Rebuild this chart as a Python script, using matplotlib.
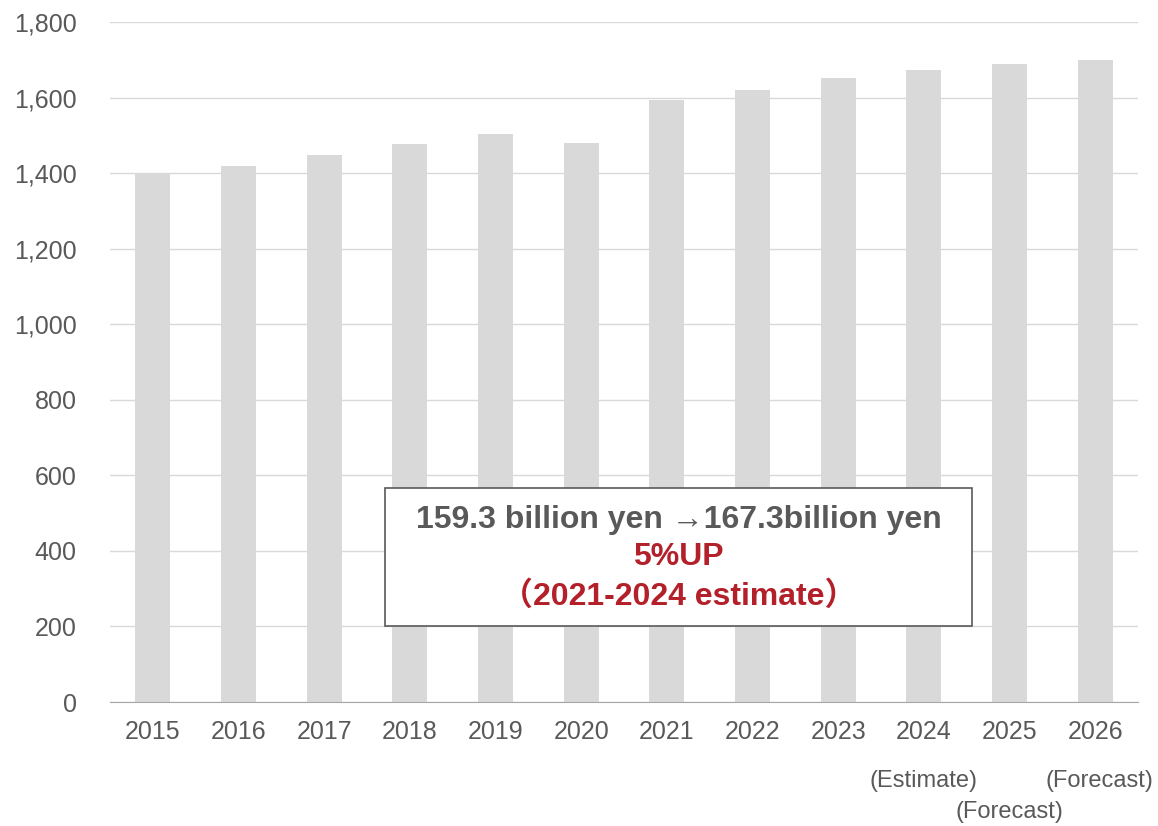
import numpy as np
import matplotlib
matplotlib.use("Agg")
import matplotlib.pyplot as plt

plt.rcParams['font.family'] = ['Liberation Sans', 'DejaVu Sans']

years = ["2015", "2016", "2017", "2018", "2019", "2020",
         "2021", "2022", "2023", "2024", "2025", "2026"]
values = [1401, 1419, 1447, 1476, 1503, 1481,
          1593, 1619, 1651, 1673, 1689, 1699]
notes = {"2024": "(Estimate)", "2025": "(Forecast)", "2026": "(Forecast)"}
yticks = [0, 200, 400, 600, 800, 1000, 1200, 1400, 1600, 1800]

fig = plt.figure(figsize=(11.58, 8.26), dpi=100)
ax = fig.add_axes([110/1158, 1 - 702/826, 1028/1158, 680/826])

x = np.arange(len(years))
ax.bar(x, values, width=0.41, color="#d9d9d9", zorder=2)

ax.set_xlim(-0.5, len(years) - 0.5)
ax.set_ylim(0, 1800)
ax.set_yticks(yticks)
ax.set_yticklabels([f"{v:,}" for v in yticks])
ax.set_xticks(x)
ax.set_xticklabels(years)
ax.grid(axis="y", color="#d9d9d9", linewidth=1, zorder=0)
ax.tick_params(axis="both", length=0, labelsize=18, colors="#595959")
ax.tick_params(axis="x", pad=13)
ax.tick_params(axis="y", pad=24)
for s in ["top", "right", "left"]:
    ax.spines[s].set_visible(False)
ax.spines["bottom"].set_color("#a6a6a6")
ax.spines["bottom"].set_zorder(3)

# sub-labels under the last years
trans = ax.get_xaxis_transform()
for yr, txt in notes.items():
    i = years.index(yr)
    dy = -0.162 if yr == "2025" else -0.116
    dx = 0.05 if yr == "2026" else 0
    ax.text(i + dx, dy, txt, transform=trans, ha="center", va="center",
            fontsize=17, color="#595959")

# callout box
box = plt.Rectangle((385/1158, 1 - 626/826), 587/1158, 138/826,
                    transform=fig.transFigure, facecolor="white",
                    edgecolor="#595959", linewidth=1.2, zorder=5)
fig.patches.append(box)
cx = (385 + 972) / 2 / 1158
fig.text(cx, 1 - 520/826, "159.3 billion yen \u2192167.3billion yen",
         ha="center", va="center", fontsize=23, fontweight="bold",
         color="#595959", zorder=6)
fig.text(cx, 1 - 557/826, "5%UP", ha="center", va="center",
         fontsize=23, fontweight="bold", color="#b3202a", zorder=6)
fig.text(cx, 1 - 596/826, "\uff082021-2024 estimate\uff09", ha="center",
         va="center", fontsize=23, fontweight="bold", color="#b3202a",
         family=["Liberation Sans", "Noto Sans CJK JP"], zorder=6)

fig.savefig("out.png", dpi=100)
